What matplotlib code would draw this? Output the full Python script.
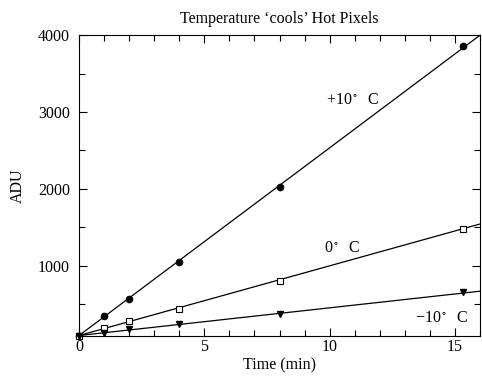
import matplotlib
matplotlib.use("Agg")
import matplotlib.pyplot as plt
import numpy as np
from matplotlib.ticker import MultipleLocator

plt.rcParams['font.family'] = ['Liberation Serif', 'DejaVu Serif']
plt.rcParams['mathtext.fontset'] = 'stix'

time = [0, 1, 2, 4, 8, 15.3]
adu_p10 = [95, 355, 575, 1048, 2020, 3860]
adu_0 = [95, 190, 286, 446, 801, 1480]
adu_m10 = [95, 134, 178, 243, 381, 662]

# fitted lines: intercept, slope
fit_p10 = (95, 244.0)
fit_0 = (95, 90.6)
fit_m10 = (95, 36.0)

labels = ["+10$^\\circ$  C", "0$^\\circ$  C", "\u221210$^\\circ$  C"]
label_pos = [(10.9, 3156), (10.5, 1234), (14.45, 325)]

FS = 11.5

fig = plt.figure(figsize=(4.82, 3.77), dpi=100)
ax = fig.add_axes([0.164, 0.109, 0.832, 0.798])

xl = np.array([0, 16])
for (b, m) in [fit_p10, fit_0, fit_m10]:
    ax.plot(xl, b + m * xl, color='black', lw=0.9)

ax.plot(time, adu_p10, 'o', color='black', ms=4.5, clip_on=False)
ax.plot(time, adu_0, 's', mfc='white', mec='black', mew=0.8, ms=4, clip_on=False)
ax.plot(time, adu_m10, 'v', color='black', ms=4, clip_on=False)

for t, (x, y) in zip(labels, label_pos):
    ax.text(x, y, t, ha='center', va='center', fontsize=FS)

ax.set_xlim(0, 16)
ax.set_ylim(90, 4000)
ax.xaxis.set_major_locator(MultipleLocator(5))
ax.xaxis.set_minor_locator(MultipleLocator(1))
ax.yaxis.set_major_locator(MultipleLocator(1000))
ax.yaxis.set_minor_locator(MultipleLocator(500))
ax.tick_params(which='both', direction='in', top=True, right=True, labelsize=FS)
ax.tick_params(which='major', length=6, width=0.8)
ax.tick_params(which='minor', length=4, width=0.8)
ax.tick_params(axis='x', which='major', pad=2)
ax.tick_params(axis='y', which='major', pad=6.5)
ax.set_xlabel("Time (min)", fontsize=FS, labelpad=2)
ax.set_ylabel("ADU", fontsize=FS, labelpad=9)
ax.set_title("Temperature \u2018cools\u2019 Hot Pixels", fontsize=FS, pad=9)

fig.savefig("out.png", dpi=100)
